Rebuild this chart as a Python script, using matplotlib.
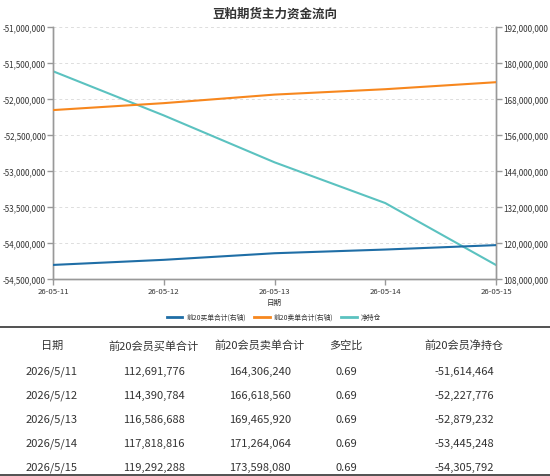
import matplotlib
matplotlib.use("Agg")
import matplotlib.pyplot as plt
from matplotlib.ticker import FuncFormatter, MultipleLocator
from matplotlib.lines import Line2D

plt.rcParams['font.family'] = ['Noto Sans CJK SC', 'DejaVu Sans']

dates = ["26-05-11", "26-05-12", "26-05-13", "26-05-14", "26-05-15"]
table_dates = ["2026/5/11", "2026/5/12", "2026/5/13", "2026/5/14", "2026/5/15"]
buy = [112691776, 114390784, 116586688, 117818816, 119292288]
sell = [164306240, 166618560, 169465920, 171264064, 173598080]
ratio = [0.69, 0.69, 0.69, 0.69, 0.69]
net = [-51614464, -52227776, -52879232, -53445248, -54305792]

title = "豆粕期货主力资金流向"
legend_labels = ["前20买单合计(右轴)", "前20卖单合计(右轴)", "净持仓"]
headers = ["日期", "前20会员买单合计", "前20会员卖单合计", "多空比", "前20会员净持仓"]

c_buy = "#1f6ea6"
c_sell = "#f7871e"
c_net = "#5bc2c0"

W, H = 550, 477
fig = plt.figure(figsize=(W / 100, H / 100), dpi=100)
ax = fig.add_axes([53 / W, 1 - 280 / H, (496 - 53) / W, (280 - 28) / H])
ax2 = ax.twinx()

x = list(range(len(dates)))
ax.plot(x, net, color=c_net, lw=1.5, zorder=3)
ax2.plot(x, buy, color=c_buy, lw=1.5, zorder=3)
ax2.plot(x, sell, color=c_sell, lw=1.5, zorder=3)

ax.set_xlim(0, 4)
ax.set_ylim(-54500000, -51000000)
ax.yaxis.set_major_locator(MultipleLocator(500000))
ax2.set_ylim(108000000, 192000000)
ax2.yaxis.set_major_locator(MultipleLocator(12000000))
fmt = FuncFormatter(lambda v, p: f"{int(round(v)):,}")
ax.yaxis.set_major_formatter(fmt)
ax2.yaxis.set_major_formatter(fmt)
ax.set_xticks(x)
ax.set_xticklabels(dates)

ax.grid(axis='y', color='#dddddd', ls=(0, (3, 3)), lw=0.7)
ax.set_axisbelow(True)
for a in (ax, ax2):
    a.spines['top'].set_visible(False)
    for s in ['left', 'right', 'bottom']:
        a.spines[s].set_color('#999999')
        a.spines[s].set_linewidth(1.0)
    a.tick_params(colors='#999999', labelcolor='#333333', labelsize=5.8, length=4, width=1.0, pad=1)
ax.tick_params(axis='x', labelsize=5.6, pad=2)
ax.set_xlabel("日期", fontsize=5.4, color='#333333', labelpad=2)

fig.text(275 / W, 1 - 14 / H, title, ha='center', va='center', fontsize=9, fontweight='bold', color='#333333')

handles = [Line2D([], [], color=c, lw=2) for c in (c_buy, c_sell, c_net)]
fig.legend(handles, legend_labels, loc='center', bbox_to_anchor=(274 / W, 1 - 318 / H),
           ncol=3, frameon=False, fontsize=4.9, handlelength=2.3, handletextpad=0.6,
           columnspacing=1.2, labelcolor='#333333')

fig.add_artist(Line2D([0, 1], [1 - 328 / H, 1 - 328 / H], color='#333333', lw=1.2, transform=fig.transFigure))
fig.add_artist(Line2D([0, 1], [1 - 475.5 / H, 1 - 475.5 / H], color='#333333', lw=1.2, transform=fig.transFigure))
col_x = [52, 154, 260, 346, 464]
rows_y = [372, 396, 420, 444, 468]
for cx, h in zip(col_x, headers):
    fig.text(cx / W, 1 - 346 / H, h, ha='center', va='center', fontsize=8, color='#333333')
for i in range(len(table_dates)):
    vals = [table_dates[i], f"{buy[i]:,}", f"{sell[i]:,}", f"{ratio[i]:.2f}", f"{net[i]:,}"]
    for cx, v in zip(col_x, vals):
        fig.text(cx / W, 1 - rows_y[i] / H, v, ha='center', va='center', fontsize=8, color='#333333')

fig.savefig("out.png", dpi=100, facecolor='white')
